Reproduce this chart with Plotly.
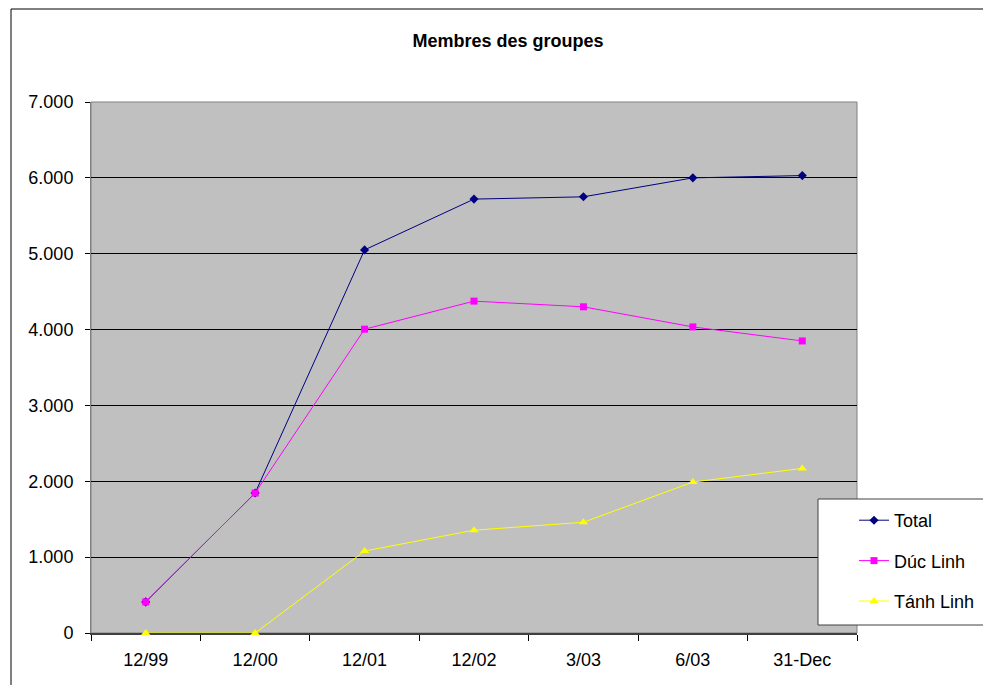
import plotly.graph_objects as go

categories = ["12/99", "12/00", "12/01", "12/02", "3/03", "6/03", "31-Dec"]
total = [410, 1845, 5050, 5720, 5750, 6000, 6030]
duc_linh = [410, 1845, 4005, 4375, 4300, 4035, 3850]
tanh_linh = [0, 0, 1080, 1355, 1460, 1990, 2170]
y_ticks = [0, 1000, 2000, 3000, 4000, 5000, 6000, 7000]
y_tick_labels = ["0", "1.000", "2.000", "3.000", "4.000", "5.000", "6.000", "7.000"]

W, H = 991, 685
O = 8  # page body margin
FW, FH = W - O, H - O
# plot area in page pixels
L, R, T, B = 91, 857, 102, 633
ml, mt = L - O, T - O
mr = FW - (R - O)
mb = FH - (B - O)

FONT = "Liberation Sans, Arial, sans-serif"

fig = go.Figure()
series = [
    ("Total", total, "#000080", "diamond", 7),
    ("Dúc Linh", duc_linh, "#FF00FF", "square", 7),
    ("Tánh Linh", tanh_linh, "#FFFF00", "triangle-up", 8),
]
for i, (name, vals, col, sym, ms) in enumerate(series):
    fig.add_trace(go.Scatter(
        x=categories, y=vals, name=name, mode="lines+markers",
        line=dict(color=col, width=1),
        marker=dict(symbol=sym, size=ms, color=col, line=dict(width=0)),
        legendgroup=f"g{i}", cliponaxis=False,
    ))

def px_x(p):
    return (p - L) / (R - L)

def px_y(p):
    return (B - p) / (B - T)

fig.update_layout(
    width=FW, height=FH,
    margin=dict(l=ml, r=mr, t=mt, b=mb, pad=0, autoexpand=False),
    paper_bgcolor="white",
    plot_bgcolor="#C0C0C0",
    font=dict(family=FONT, size=18, color="black"),
    title=dict(text="<b>Membres des groupes</b>", x=px_x(508), xanchor="center",
               xref="paper", y=1 - (41 - O) / FH, yanchor="middle",
               font=dict(size=18, family=FONT)),
    xaxis=dict(
        type="category", range=[-0.5, 6.5], showgrid=False,
        tickson="boundaries", ticks="outside", ticklen=6, tickcolor="black",
        showline=True, linecolor="#404040", linewidth=2, mirror=False,
        tickfont=dict(size=18), fixedrange=True, ticklabelstandoff=9,
        automargin=False, layer="below traces",
    ),
    yaxis=dict(
        range=[0, 7000], tickvals=y_ticks, ticktext=y_tick_labels,
        showgrid=True, gridcolor="black", gridwidth=1,
        ticks="outside", ticklen=5, tickcolor="black",
        showline=True, linecolor="#808080", linewidth=1,
        tickfont=dict(size=18), zeroline=False, fixedrange=True,
        ticklabelstandoff=8, automargin=False, layer="below traces",
    ),
    legend=dict(
        x=px_x(854), y=px_y(502), xanchor="left", yanchor="top",
        bgcolor="rgba(0,0,0,0)", borderwidth=0,
        font=dict(size=18), tracegroupgap=14, itemwidth=30,
    ),
    showlegend=True,
    shapes=[
        dict(type="rect", xref="paper", yref="paper",
             x0=0, x1=1, y0=0, y1=1,
             line=dict(color="#808080", width=1), fillcolor="rgba(0,0,0,0)", layer="below"),
        dict(type="rect", xref="paper", yref="paper",
             x0=px_x(818), x1=px_x(W + 40), y0=px_y(625), y1=px_y(499),
             line=dict(color="#404040", width=1), fillcolor="white", layer="above"),
        dict(type="rect", xref="paper", yref="paper",
             x0=px_x(11), x1=px_x(W + 50), y0=px_y(H + 50), y1=px_y(9),
             line=dict(color="black", width=1), fillcolor="rgba(0,0,0,0)"),
    ],
)

fig.write_html("out.html")
